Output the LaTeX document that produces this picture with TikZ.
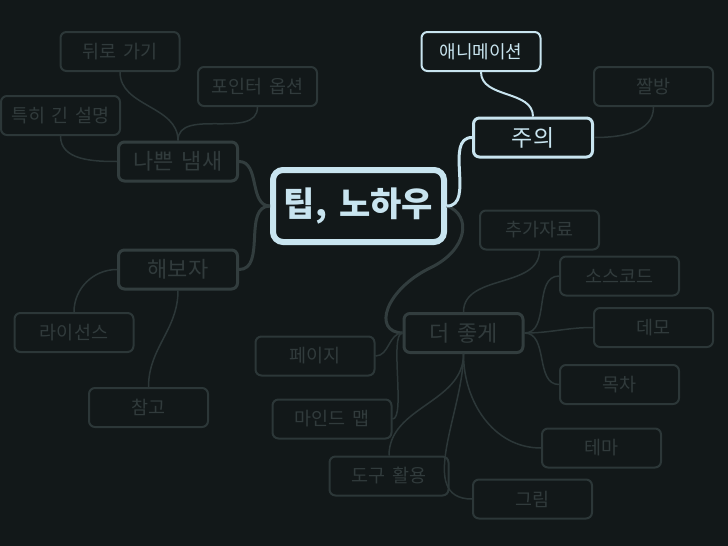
\documentclass[tikz,border=0pt]{standalone}
\usepackage{fontspec}
\setmainfont[WordSpace=1.6]{Noto Sans CJK KR}
\definecolor{bg}{HTML}{121819}
\definecolor{dim}{HTML}{2C3738}
\definecolor{dimtrunk}{HTML}{323D3E}
\definecolor{dimtext}{HTML}{313B3C}
\definecolor{pale}{HTML}{C8E4EF}
\begin{document}
\begin{tikzpicture}[x=1pt,y=-1pt,
  leaf/.style={draw=dim,line width=2pt,rounded corners=6pt,text=dimtext,font=\fontsize{18.5}{18.5}\selectfont,minimum width=119pt,minimum height=39pt,inner sep=0pt},
  branch/.style={leaf,line width=3pt,draw=dimtrunk,minimum width=119pt,minimum height=39pt,font=\fontsize{22}{22}\selectfont},
  hot/.style={leaf,draw=pale,text=pale},
  link/.style={draw=dim,line width=1.5pt},
  trunk/.style={draw=dimtrunk,line width=3pt}]
\fill[bg] (0,0) rectangle (728,546);
\useasboundingbox (0,0) rectangle (728,546);
\node[draw=pale,line width=6pt,rounded corners=10pt,text=pale,minimum width=171pt,minimum height=72pt,font=\fontsize{34}{34}\selectfont\bfseries] (tip) at (358.5,206) {팁, 노하우};
\node[hot,line width=3pt,font=\fontsize{23}{23}\selectfont] (caution) at (533,137.5) {주의};
\node[hot,font=\fontsize{18}{18}\selectfont] (anim) at (481,51.5) {애니메이션};
\node[leaf] (meme) at (653.5,86.5) {짤방};
\node[branch] (smell) at (178,161.5) {나쁜 냄새};
\node[leaf] (back) at (120,51.5) {뒤로 가기};
\node[leaf] (pointer) at (257.5,86.5) {포인터 옵션};
\node[leaf] (longdesc) at (60.5,115.5) {특히 긴 설명};
\node[branch] (try) at (178,269.5) {해보자};
\node[leaf] (license) at (74,332.5) {라이선스};
\node[leaf] (ref) at (148.5,407.5) {참고};
\node[branch] (better) at (463.5,333) {더 좋게};
\node[leaf] (extra) at (539.5,230) {추가자료};
\node[leaf] (source) at (619.5,276) {소스코드};
\node[leaf] (demo) at (653.5,327.5) {데모};
\node[leaf] (toc) at (619.5,384.5) {목차};
\node[leaf] (theme) at (601.5,448) {테마};
\node[leaf] (pic) at (532.5,499) {그림};
\node[leaf] (page) at (315,356) {페이지};
\node[leaf] (mindmap) at (332,419) {마인드 맵};
\node[leaf] (tools) at (389,476) {도구 활용};
\draw[trunk] (tip.west) to[out=180,in=0] (smell.east);
\draw[trunk] (tip.west) to[out=180,in=0] (try.east);
\draw[trunk] (tip.east) .. controls (472,215) and (468,250) .. (430,268) .. controls (385,290) and (372,332) .. (better.west);
\draw[draw=pale,line width=3pt] (tip.east) to[out=0,in=180] (caution.west);
\draw[draw=pale,line width=2pt] (anim.south) to[out=-90,in=90] (caution.north);
\draw[link] (meme.south) to[out=-90,in=0] (caution.east);
\draw[link] (back.south) to[out=-90,in=90] (smell.north);
\draw[link] (pointer.south) to[out=-90,in=90] (smell.north);
\draw[link] (longdesc.south) to[out=-90,in=180] (smell.west);
\draw[link] (license.north) to[out=90,in=180] (try.west);
\draw[link] (ref.north) to[out=90,in=-90] (try.south);
\draw[link] (extra.south) to[out=-90,in=90] (better.north);
\draw[link] (source.west) to[out=180,in=0] (better.east);
\draw[link] (demo.west) to[out=180,in=0] (better.east);
\draw[link] (toc.west) to[out=180,in=0] (better.east);
\draw[link] (theme.west) to[out=180,in=-90] (better.south);
\draw[link] (pic.west) to[out=180,in=-90] (better.south);
\draw[link] (page.east) to[out=0,in=180] (better.west);
\draw[link] (mindmap.east) to[out=0,in=180,looseness=0.4] (better.west);
\draw[link] (tools.north) to[out=90,in=-90] (better.south);
\end{tikzpicture}
\end{document}
